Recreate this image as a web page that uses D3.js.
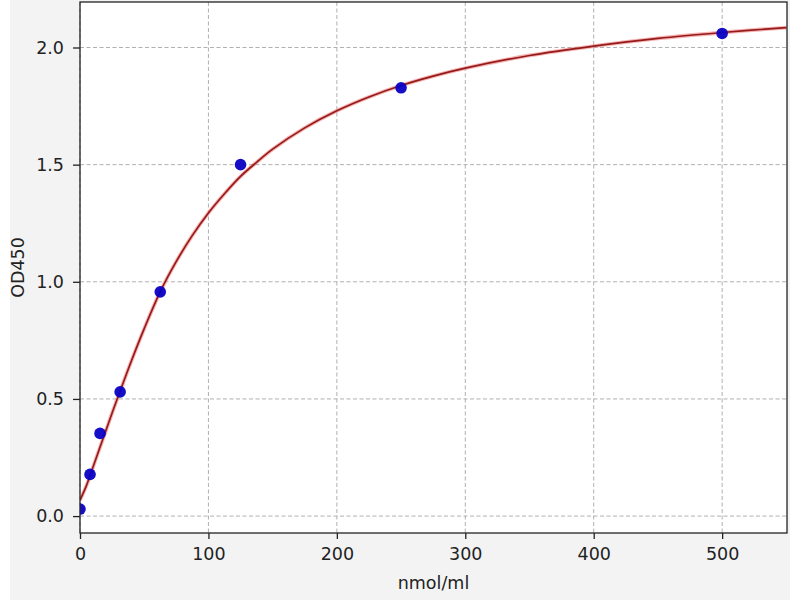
<!DOCTYPE html>
<html>
<head>
<meta charset="utf-8">
<script src="https://cdn.jsdelivr.net/npm/d3@7"></script>
<style>
  html, body { margin: 0; padding: 0; background: #ffffff; }
  svg { display: block; }
</style>
</head>
<body>
<svg id="chart" width="800" height="600"></svg>
<script>
// Standard points (concentration nmol/ml, OD450)
const stdConc = [0, 7.8, 15.6, 31.25, 62.5, 125, 250, 500];
const stdOD   = [0.03, 0.178, 0.353, 0.53, 0.957, 1.50, 1.828, 2.06];

// Fitted curve
const curveConc = [0, 5, 10, 15, 20, 25, 30, 40, 50, 62.5, 75, 87.5, 100, 112.5, 125, 137.5, 150, 175, 200, 225, 250, 275, 300, 350, 400, 450, 500, 550];
const curveOD   = [0.068, 0.13, 0.207, 0.285, 0.362, 0.44, 0.515, 0.662, 0.80, 0.958, 1.087, 1.198, 1.294, 1.376, 1.45, 1.51, 1.566, 1.657, 1.73, 1.789, 1.838, 1.878, 1.912, 1.966, 2.006, 2.039, 2.064, 2.085];

const xTicks = [0, 100, 200, 300, 400, 500];
const yTicks = [0.0, 0.5, 1.0, 1.5, 2.0];

const svg = d3.select("#chart");
const m = { left: 80, right: 787, top: 2, bottom: 533 };
const FONT = "DejaVu Sans, sans-serif";
const FS = "17.5px";

svg.append("rect").attr("x", 10).attr("y", 0).attr("width", 780).attr("height", 600).attr("fill", "#f3f3f3");

const x = d3.scaleLinear().domain([0, 550.5]).range([m.left, m.right]);
const y = d3.scaleLinear().domain([-0.0722, 2.1942]).range([m.bottom, m.top]);

svg.append("rect").attr("x", m.left).attr("y", m.top)
  .attr("width", m.right - m.left).attr("height", m.bottom - m.top).attr("fill", "#ffffff");

// grid
const grid = svg.append("g");
grid.selectAll("line.gx").data(xTicks).join("line")
  .attr("x1", d => x(d)).attr("x2", d => x(d)).attr("y1", m.top).attr("y2", m.bottom)
  .attr("stroke", "#b0b0b0").attr("stroke-width", 1).attr("stroke-dasharray", "4,2.5");
grid.selectAll("line.gy").data(yTicks).join("line")
  .attr("y1", d => y(d)).attr("y2", d => y(d)).attr("x1", m.left).attr("x2", m.right)
  .attr("stroke", "#b0b0b0").attr("stroke-width", 1).attr("stroke-dasharray", "4,2.5");

// clip
svg.append("clipPath").attr("id", "clip").append("rect")
  .attr("x", m.left).attr("y", m.top).attr("width", m.right - m.left).attr("height", m.bottom - m.top);

const pts = curveConc.map((c, i) => [c, curveOD[i]]);
const line = d3.line().x(d => x(d[0])).y(d => y(d[1])).curve(d3.curveCatmullRom.alpha(0.5));
const g = svg.append("g").attr("clip-path", "url(#clip)");
g.append("path").attr("d", line(pts)).attr("fill", "none")
  .attr("stroke", "#f08080").attr("stroke-opacity", 0.6).attr("stroke-width", 3.8);
g.append("path").attr("d", line(pts)).attr("fill", "none")
  .attr("stroke", "#951a1a").attr("stroke-width", 1.7);

// points
const sp = stdConc.map((c, i) => [c, stdOD[i]]);
g.selectAll("circle").data(sp).join("circle")
  .attr("cx", d => x(d[0])).attr("cy", d => y(d[1])).attr("r", 5.8)
  .attr("fill", "#0a00c4").attr("fill-opacity", 0.95);

// spines
svg.append("rect").attr("x", m.left).attr("y", m.top)
  .attr("width", m.right - m.left).attr("height", m.bottom - m.top)
  .attr("fill", "none").attr("stroke", "#222").attr("stroke-width", 1.3);

// axes
const xAxis = d3.axisBottom(x).tickValues(xTicks).tickFormat(d3.format("d")).tickSize(6).tickPadding(9);
const yAxis = d3.axisLeft(y).tickValues(yTicks).tickFormat(d3.format(".1f")).tickSize(7).tickPadding(9);

const gx = svg.append("g").attr("transform", `translate(0,${m.bottom})`).call(xAxis);
const gy = svg.append("g").attr("transform", `translate(${m.left},0)`).call(yAxis);
[gx, gy].forEach(a => {
  a.select(".domain").remove();
  a.selectAll(".tick line").attr("stroke", "#222").attr("stroke-width", 1.3);
  a.selectAll(".tick text").attr("fill", "#222")
    .style("font-family", FONT).style("font-size", FS);
});

svg.append("text").attr("x", (m.left + m.right) / 2).attr("y", 589)
  .attr("text-anchor", "middle").attr("fill", "#222")
  .style("font-family", FONT).style("font-size", FS)
  .text("nmol/ml");
svg.append("text").attr("transform", `translate(24,${(m.top + m.bottom) / 2}) rotate(-90)`)
  .attr("text-anchor", "middle").attr("fill", "#222")
  .style("font-family", FONT).style("font-size", FS)
  .text("OD450");
</script>
</body>
</html>
